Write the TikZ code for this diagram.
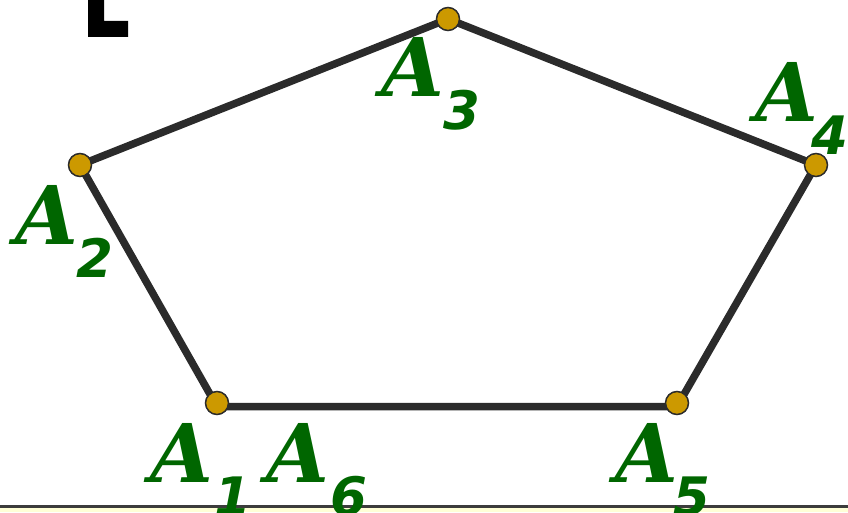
\documentclass[tikz,border=0pt]{standalone}
\usepackage{fontspec}
\newfontfamily\lblAfont{DejaVu Serif}
\newfontfamily\lblNfont{DejaVu Sans}
\definecolor{edgec}{RGB}{43,43,43}
\definecolor{dotc}{RGB}{204,153,0}
\definecolor{lblc}{RGB}{0,102,0}
\definecolor{groundc}{RGB}{255,255,214}
\definecolor{groundl}{RGB}{60,60,60}
\begin{document}
\begin{tikzpicture}[x=1pt,y=1pt,
  vdot/.style={circle,draw=edgec,line width=1.5pt,fill=dotc,minimum size=23pt,inner sep=0pt},
  edge/.style={draw=edgec,line width=7.5pt},
  lblA/.style={text=lblc,inner sep=0pt,anchor=base west,font=\lblAfont\bfseries\itshape\fontsize{81}{81}\selectfont},
  lblN/.style={text=lblc,inner sep=0pt,anchor=base west,font=\lblNfont\bfseries\itshape\fontsize{53}{53}\selectfont}]
\useasboundingbox (0,0) rectangle (848,512);
% ground
\fill[groundc] (0,0) rectangle (848,4);
\draw[groundl,line width=2.5pt] (0,5.5) -- (848,5.5);
% L mark
\fill[black] (88,512) -- (104,512) -- (104,491) -- (128,491) -- (128,475) -- (88,475) -- cycle;
% vertices
\coordinate (P1) at (217,109);
\coordinate (P2) at (80,347);
\coordinate (P3) at (448,493);
\coordinate (P4) at (816,347);
\coordinate (P5) at (677,109);
\coordinate (E1) at (217,105.5);
\coordinate (E5) at (677,105.5);
\draw[edge,line join=round] (E1) -- (P2) -- (P3) -- (P4) -- (E5) -- cycle;
\node[vdot] (A1) at (P1) {};
\node[vdot] (A2) at (P2) {};
\node[vdot] (A3) at (P3) {};
\node[vdot] (A4) at (P4) {};
\node[vdot] (A5) at (P5) {};
% labels
\node[lblA] (lA3) at (381,415) {A};
\node[lblN] (lA3s) at (443,382) {3};
\node[lblA] (lA4) at (755,390) {A};
\node[lblN] (lA4s) at (811,357) {4};
\node[lblA] (lA2) at (15,267) {A};
\node[lblN] (lA2s) at (76,235) {2};
\node[lblA] (lA1) at (150,30) {A};
\node[lblN] (lA1s) at (214,-3) {1};
\node[lblA] (lA6) at (266,30) {A};
\node[lblN] (lA6s) at (330,-3) {6};
\node[lblA] (lA5) at (615,30) {A};
\node[lblN] (lA5s) at (673,-3) {5};
\end{tikzpicture}
\end{document}
